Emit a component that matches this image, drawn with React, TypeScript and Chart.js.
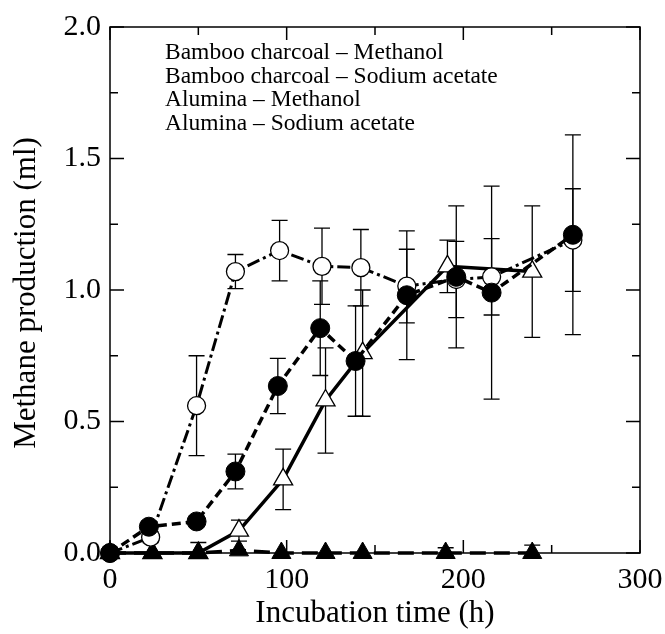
import React, { useEffect, useRef } from "react";
import { Chart, registerables } from "chart.js";

Chart.register(...registerables);

const seriesLabels = [
  "Bamboo charcoal – Methanol",
  "Bamboo charcoal – Sodium acetate",
  "Alumina – Methanol",
  "Alumina – Sodium acetate",
];

// Bamboo charcoal – Methanol (open circles, dash-dot)
const bcMethX = [0, 23, 49, 71, 96, 120, 142, 168, 196, 216, 262];
const bcMethY = [0, 0.06, 0.56, 1.07, 1.15, 1.09, 1.085, 1.015, 1.04, 1.05, 1.19];
const bcMethErr = [0, 0.02, 0.19, 0.065, 0.115, 0.145, 0.145, 0.14, 0.145, 0.145, 0.195];

// Bamboo charcoal – Sodium acetate (filled circles, dashed)
const bcAcX = [0, 22, 49, 71, 95, 119, 139, 168, 196, 216, 262];
const bcAcY = [0, 0.1, 0.12, 0.31, 0.635, 0.855, 0.73, 0.98, 1.05, 0.99, 1.21];
const bcAcErr = [0, 0.02, 0.02, 0.066, 0.105, 0.18, 0.21, 0.245, 0.27, 0.405, 0.38];

// Alumina – Methanol (open triangles, solid)
const alMethX = [0, 24, 50, 73, 98, 122, 143, 191, 239];
const alMethY = [0, 0, 0, 0.085, 0.28, 0.58, 0.76, 1.09, 1.07];
const alMethErr = [0, 0, 0.04, 0.04, 0.115, 0.2, 0.24, 0.1, 0.25];

// Alumina – Sodium acetate (filled triangles, long dashes)
const alAcX = [0, 24, 50, 73, 97, 122, 143, 190, 239];
const alAcY = [0, 0, 0, 0.01, 0, 0, 0, 0, 0];
const alAcErr = [0, 0, 0, 0, 0, 0, 0, 0.02, 0.03];

const xTickValues = [0, 50, 100, 150, 200, 250, 300];
const yTickValues = [0, 0.25, 0.5, 0.75, 1.0, 1.25, 1.5, 1.75, 2.0];

const xTitle = "Incubation time (h)";
const yTitle = "Methane production (ml)";

const FONT = "'Liberation Serif', 'DejaVu Serif', serif";

const toPts = (xs: number[], ys: number[]) => xs.map((x, i) => ({ x, y: ys[i] }));

const errs = [bcMethErr, bcAcErr, alMethErr, alAcErr];

const framePlugin = {
  id: "frame",
  beforeDatasetsDraw(chart: any) {
    const { ctx, scales } = chart;
    const xs = scales.x;
    const ys = scales.y;
    ctx.save();
    ctx.strokeStyle = "#000";
    ctx.lineWidth = 1.3;
    chart.data.datasets.forEach((ds: any, di: number) => {
      const e = errs[di];
      ds.data.forEach((p: any, i: number) => {
        const er = e[i];
        if (!er) return;
        const px = xs.getPixelForValue(p.x);
        const y1 = ys.getPixelForValue(p.y + er);
        const y2 = ys.getPixelForValue(Math.max(0, p.y - er));
        ctx.beginPath();
        ctx.moveTo(px, y1);
        ctx.lineTo(px, y2);
        ctx.moveTo(px - 8, y1);
        ctx.lineTo(px + 8, y1);
        if (p.y - er > 0) {
          ctx.moveTo(px - 8, y2);
          ctx.lineTo(px + 8, y2);
        }
        ctx.stroke();
      });
    });
    ctx.restore();
  },
  afterDraw(chart: any) {
    const { ctx, chartArea, scales } = chart;
    const { left, right, top, bottom } = chartArea;
    const xs = scales.x;
    const ys = scales.y;
    ctx.save();
    ctx.strokeStyle = "#000";
    ctx.lineWidth = 1.5;
    ctx.strokeRect(left, top, right - left, bottom - top);
    ctx.beginPath();
    xTickValues.forEach((v) => {
      const px = xs.getPixelForValue(v);
      const len = v % 100 === 0 ? 13 : 8;
      ctx.moveTo(px, bottom);
      ctx.lineTo(px, bottom - len);
      ctx.moveTo(px, top);
      ctx.lineTo(px, top + len);
    });
    yTickValues.forEach((v) => {
      const py = ys.getPixelForValue(v);
      const len = Math.abs((v * 2) % 1) < 1e-6 ? 14 : 8;
      ctx.moveTo(left, py);
      ctx.lineTo(left + len, py);
      ctx.moveTo(right, py);
      ctx.lineTo(right - len, py);
    });
    ctx.stroke();

    // axis titles
    ctx.fillStyle = "#000";
    ctx.font = `31px ${FONT}`;
    ctx.textAlign = "center";
    ctx.textBaseline = "alphabetic";
    ctx.fillText(xTitle, (left + right) / 2, 622);
    ctx.save();
    ctx.translate(35, (top + bottom) / 2 + 3);
    ctx.rotate(-Math.PI / 2);
    ctx.fillText(yTitle, 0, 0);
    ctx.restore();

    // legend text
    ctx.font = `23.5px ${FONT}`;
    ctx.textAlign = "left";
    seriesLabels.forEach((t, i) => {
      ctx.fillText(t, 165, 59 + i * 23.5);
    });
    ctx.restore();
  },
};

export default function App() {
  const ref = useRef<HTMLCanvasElement | null>(null);
  useEffect(() => {
    if (!ref.current) return;
    const chart = new Chart(ref.current, {
      type: "scatter",
      data: {
        datasets: [
          {
            label: seriesLabels[0],
            data: toPts(bcMethX, bcMethY),
            order: 1,
            showLine: true,
            clip: false,
            borderColor: "#000",
            borderWidth: 3,
            borderDash: [13, 4, 3, 4],
            pointStyle: "circle",
            pointRadius: 9,
            pointBorderWidth: 1.3,
            pointBackgroundColor: "#fff",
            pointBorderColor: "#000",
          },
          {
            label: seriesLabels[1],
            data: toPts(bcAcX, bcAcY),
            order: 0,
            showLine: true,
            clip: false,
            borderColor: "#000",
            borderWidth: 3.5,
            borderDash: [9, 5],
            pointStyle: "circle",
            pointRadius: 9.5,
            pointBorderWidth: 1,
            pointBackgroundColor: "#000",
            pointBorderColor: "#000",
          },
          {
            label: seriesLabels[2],
            data: toPts(alMethX, alMethY),
            order: 3,
            showLine: true,
            clip: false,
            borderColor: "#000",
            borderWidth: 3.5,
            pointStyle: "triangle",
            pointRadius: 11,
            pointBorderWidth: 1.3,
            pointBackgroundColor: "#fff",
            pointBorderColor: "#000",
          },
          {
            label: seriesLabels[3],
            data: toPts(alAcX, alAcY),
            order: 2,
            showLine: true,
            clip: false,
            borderColor: "#000",
            borderWidth: 3.5,
            borderDash: [16, 8],
            pointStyle: "triangle",
            pointRadius: 11,
            pointBorderWidth: 1,
            pointBackgroundColor: "#000",
            pointBorderColor: "#000",
          },
        ],
      },
      options: {
        animation: false,
        responsive: true,
        maintainAspectRatio: false,
        layout: { padding: { top: 27, right: 25, left: 0, bottom: 0 } },
        plugins: {
          legend: { display: false },
          tooltip: { enabled: false },
        },
        scales: {
          x: {
            type: "linear",
            min: 0,
            max: 300,
            grid: { display: false, drawTicks: false },
            border: { display: false },
            ticks: {
              stepSize: 100,
              color: "#000",
              padding: 9,
              font: { family: FONT, size: 30 },
            },
            afterFit: (s: any) => {
              s.height = 81;
              s.paddingLeft = 0;
              s.paddingRight = 0;
            },
          },
          y: {
            type: "linear",
            min: 0,
            max: 2,
            grid: { display: false, drawTicks: false },
            border: { display: false },
            ticks: {
              stepSize: 0.5,
              color: "#000",
              padding: 9,
              font: { family: FONT, size: 30 },
              callback: (v: any) => Number(v).toFixed(1),
            },
            afterFit: (s: any) => {
              s.width = 110;
              s.paddingTop = 0;
              s.paddingBottom = 0;
            },
          },
        },
      },
      plugins: [framePlugin],
    });
    return () => chart.destroy();
  }, []);
  return (
    <div style={{ position: "absolute", left: 0, top: 0, width: 665, height: 634, background: "#fff" }}>
      <canvas ref={ref} />
    </div>
  );
}
